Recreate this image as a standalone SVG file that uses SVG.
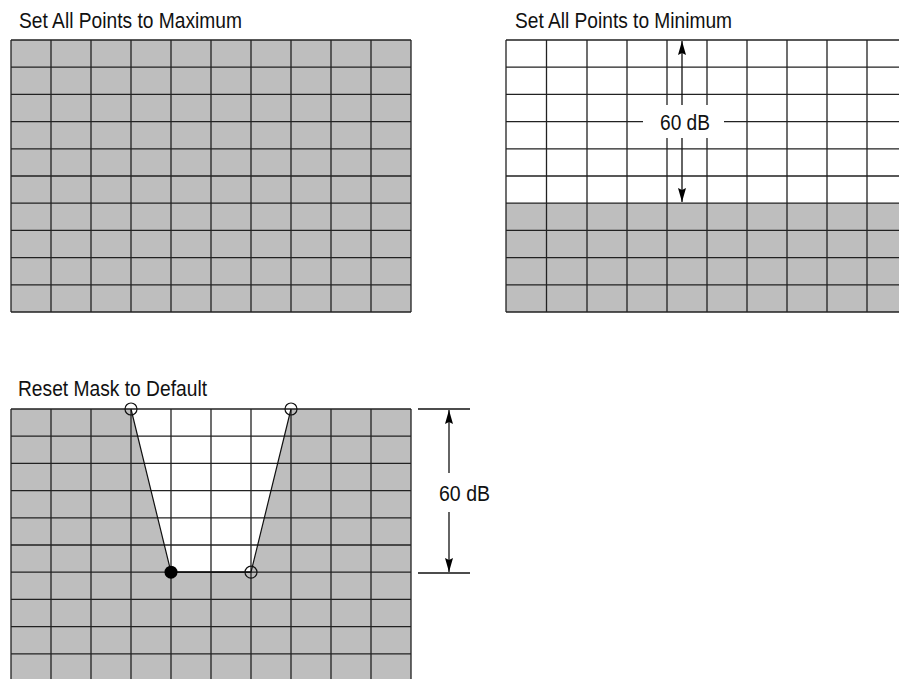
<svg xmlns="http://www.w3.org/2000/svg" width="899" height="679" viewBox="0 0 899 679">
<style>
.bg{fill:#fff}
.gray{fill:#bebebe}
.white{fill:#fff}
.grid{stroke:#222;stroke-width:1.3;fill:none}
.edge{stroke:#111;stroke-width:1.2;fill:none}
.dim{stroke:#111;stroke-width:1.3;fill:none}
.lbl{font-family:"Liberation Sans",Arial,sans-serif;font-size:21.5px;fill:#111}
.open{fill:none;stroke:#111;stroke-width:1.2}
.dot{fill:#000}
</style>
<defs>
<marker id="ah" viewBox="0 0 14 8" refX="14" refY="4" markerWidth="14" markerHeight="8" markerUnits="userSpaceOnUse" orient="auto">
<path d="M0,0 L14,4 L0,8 L2,4 z" fill="#000"/>
</marker>
</defs>
<rect class="bg" x="0" y="0" width="899" height="679"/>

<g id="max">
<text class="lbl" x="19" y="28" textLength="223" lengthAdjust="spacingAndGlyphs">Set All Points to Maximum</text>
<rect class="gray" x="11" y="40" width="400" height="272"/>
<path class="grid" d="M11 40V312M51 40V312M91 40V312M131 40V312M171 40V312M211 40V312M251 40V312M291 40V312M331 40V312M371 40V312M411 40V312
M11 40H411M11 67.2H411M11 94.4H411M11 121.6H411M11 148.8H411M11 176H411M11 203.2H411M11 230.4H411M11 257.6H411M11 284.8H411M11 312H411"/>
</g>

<g id="min">
<text class="lbl" x="515" y="28" textLength="217" lengthAdjust="spacingAndGlyphs">Set All Points to Minimum</text>
<rect class="white" x="506" y="40" width="400" height="272"/>
<rect class="gray" x="506" y="203.2" width="400" height="108.8"/>
<path class="grid" d="M506 40V312M546.5 40V312M587 40V312M627 40V312M667 40V312M707 40V312M747 40V312M787 40V312M827 40V312M867 40V312
M506 40H906M506 67.2H906M506 94.4H906M506 121.6H906M506 148.8H906M506 176H906M506 203.2H906M506 230.4H906M506 257.6H906M506 284.8H906M506 312H906"/>
<rect class="white" x="643" y="105" width="81" height="33"/>
<text class="lbl" x="660" y="130" textLength="50" lengthAdjust="spacingAndGlyphs">60 dB</text>
</g>

<g id="reset">
<text class="lbl" x="18" y="396" textLength="189" lengthAdjust="spacingAndGlyphs">Reset Mask to Default</text>
<rect class="gray" x="11" y="409" width="400" height="272"/>
<polygon class="white" points="131,409 291,409 251,572.2 171,572.2"/>
<path class="grid" d="M11 409V681M51 409V681M91 409V681M131 409V681M171 409V681M211 409V681M251 409V681M291 409V681M331 409V681M371 409V681M411 409V681
M11 409H411M11 436.2H411M11 463.4H411M11 490.6H411M11 517.8H411M11 545H411M11 572.2H411M11 599.4H411M11 626.6H411M11 653.8H411"/>
<path class="edge" d="M131 409L171 572.2L251 572.2L291 409"/>
<path class="edge" d="M171 572.2H251" stroke-width="1.8"/>
<circle class="open" cx="131" cy="409" r="6"/>
<circle class="open" cx="291" cy="409" r="6"/>
<circle class="open" cx="251" cy="572.2" r="6"/>
<circle class="dot" cx="171" cy="572.2" r="6.5"/>
<text class="lbl" x="439" y="501" textLength="51" lengthAdjust="spacingAndGlyphs">60 dB</text>
</g>

<g id="connectors">
<line class="dim" x1="682" y1="105" x2="682" y2="41" marker-end="url(#ah)"/>
<line class="dim" x1="682" y1="138" x2="682" y2="202" marker-end="url(#ah)"/>
<line class="dim" x1="418" y1="409" x2="470" y2="409"/>
<line class="dim" x1="418" y1="573" x2="470" y2="573"/>
<line class="dim" x1="449" y1="473" x2="449" y2="410" marker-end="url(#ah)"/>
<line class="dim" x1="449" y1="512" x2="449" y2="572" marker-end="url(#ah)"/>
</g>
</svg>
